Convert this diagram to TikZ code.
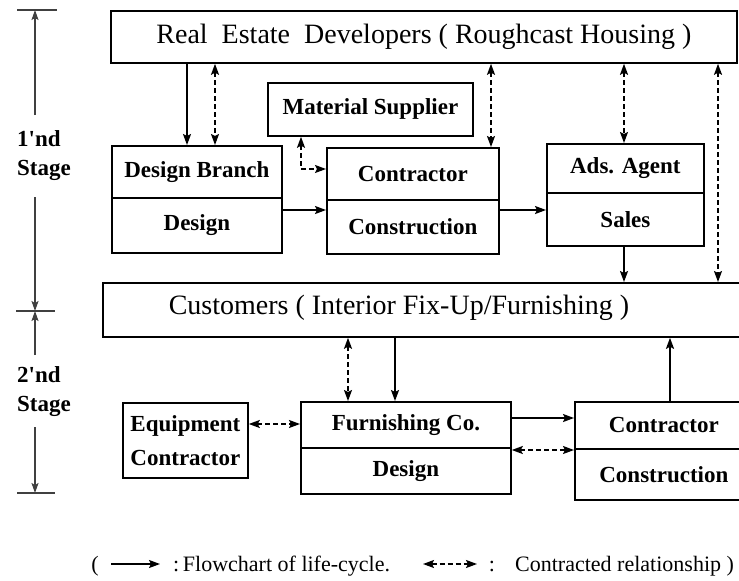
\documentclass[tikz,border=0pt]{standalone}
\usepackage{fontspec}
\setmainfont{Liberation Serif}
\usetikzlibrary{arrows.meta}
\begin{document}
\begin{tikzpicture}[x=1pt,y=-1pt,
  box/.style={draw,line width=1.8pt,anchor=north west,inner sep=0pt,align=center,
    font=\fontsize{23}{34}\selectfont\bfseries},
  bigbox/.style={draw,line width=1.8pt,anchor=north west,inner sep=0pt,
    font=\fontsize{28}{32}\selectfont},
  bigtext/.style={inner sep=0pt,font=\fontsize{28}{32}\selectfont},
  flow/.style={line width=1.8pt,-{Stealth[length=11pt,width=8pt,inset=2pt]}},
  contract/.style={line width=1.5pt,dash pattern=on 5pt off 3pt,
    {Stealth[length=11pt,width=8pt,inset=2pt]}-{Stealth[length=11pt,width=8pt,inset=2pt]}},
  stageline/.style={line width=1.4pt,draw=black!75,-{Stealth[length=10pt,width=7pt,inset=2pt]}},
  tick/.style={line width=1.4pt,draw=black!75},
  stagetxt/.style={anchor=west,align=left,inner sep=0pt,
    font=\fontsize{23}{29}\selectfont\bfseries},
  legend/.style={inner sep=0pt,font=\fontsize{22}{26}\selectfont},
]
\useasboundingbox (0,0) rectangle (739,581);
\clip (0,0) rectangle (739,581);

% ---- first stage ----
\node[bigbox,minimum width=626pt,minimum height=52pt] (red) at (110,10)
  {Real\ \ Estate\ \ Developers ( Roughcast Housing )};
\node[box,minimum width=205pt,minimum height=53pt] (mat) at (267,82) {Material Supplier};

\node[box,minimum width=170pt,minimum height=52pt] (dbr) at (111,145) {Design Branch};
\node[box,minimum width=170pt,minimum height=55pt] (des) at (111,197) {Design};

\node[box,minimum width=172pt,minimum height=52pt] (con1) at (326,147) {Contractor};
\node[box,minimum width=172pt,minimum height=54pt] (cons1) at (326,199) {Construction};

\node[box,minimum width=157pt,minimum height=49pt] (ads) at (546,143) {Ads. Agent};
\node[box,minimum width=157pt,minimum height=53pt] (sales) at (546,192) {Sales};

% ---- second stage ----
\node[bigbox,minimum width=660pt,minimum height=54pt] (cust) at (102,282) {};
\node[bigtext] (custtext) at (399,308) {Customers ( Interior Fix-Up/Furnishing )};

\node[box,minimum width=125pt,minimum height=75pt] (equ) at (122,402) {Equipment\\Contractor};

\node[box,minimum width=210pt,minimum height=46pt] (fur) at (300,401) {Furnishing Co.};
\node[box,minimum width=210pt,minimum height=46pt] (fdes) at (300,447) {Design};

\node[box,minimum width=178pt,minimum height=47pt] (con2) at (574,401) {Contractor};
\node[box,minimum width=178pt,minimum height=51pt] (cons2) at (574,448) {Construction};

% ---- connectors, first stage ----
\draw[flow] (187,0 |- red.south) -- (187,0 |- dbr.north);
\draw[contract] (215,0 |- red.south) -- (215,0 |- dbr.north);
\draw[contract] (301,0 |- mat.south) |- (con1.west |- 0,169);
\draw[contract] (491,0 |- red.south) -- (491,0 |- con1.north);
\draw[flow] (des.east |- 0,210) -- (cons1.west |- 0,210);
\draw[flow] (cons1.east |- 0,210) -- (sales.west |- 0,210);
\draw[contract] (624,0 |- red.south) -- (624,0 |- ads.north);
\draw[contract] (718,0 |- red.south) -- (718,0 |- cust.north);
\draw[flow] (624,0 |- sales.south) -- (624,0 |- cust.north);

% ---- connectors, second stage ----
\draw[contract] (348,0 |- cust.south) -- (348,0 |- fur.north);
\draw[flow] (395,0 |- cust.south) -- (395,0 |- fur.north);
\draw[contract] (equ.east |- 0,424) -- (fur.west |- 0,424);
\draw[flow] (fur.east |- 0,418) -- (con2.west |- 0,418);
\draw[contract] (fdes.east |- 0,450) -- (cons2.west |- 0,450);
\draw[flow] (670,0 |- con2.north) -- (670,0 |- cust.south);

% ---- stage scale on the left ----
\coordinate (s1top) at (35,10);
\coordinate (s1a) at (35,115);
\coordinate (s1b) at (35,197);
\coordinate (smid) at (35,311);
\coordinate (s2a) at (35,355);
\coordinate (s2b) at (35,427);
\coordinate (s2bot) at (35,493);
\draw[tick] (17,10) -- (57,10);
\draw[tick] (16,311) -- (55,311);
\draw[tick] (17,493) -- (55,493);
\draw[stageline] (s1a) -- (s1top);
\draw[stageline] (s1b) -- (smid);
\draw[stageline] (s2a) -- (smid);
\draw[stageline] (s2b) -- (s2bot);
\node[stagetxt] (st1) at (17,156) {1\textquotesingle nd\\Stage};
\node[stagetxt] (st2) at (17,392) {2\textquotesingle nd\\Stage};

% ---- legend ----
\node[legend] (lp) at (95,566) {(};
\coordinate (la1) at (111,564);
\coordinate (la2) at (160,564);
\draw[flow,line width=1.6pt] (la1) -- (la2);
\node[legend,anchor=west] (lt1) at (173,566) {:\,Flowchart of life-cycle.};
\coordinate (lb1) at (423,564);
\coordinate (lb2) at (477,564);
\draw[contract] (lb1) -- (lb2);
\node[legend] (lc) at (492,566) {:};
\node[legend,anchor=west] (lt2) at (515,566) {Contracted relationship )};
\end{tikzpicture}
\end{document}
